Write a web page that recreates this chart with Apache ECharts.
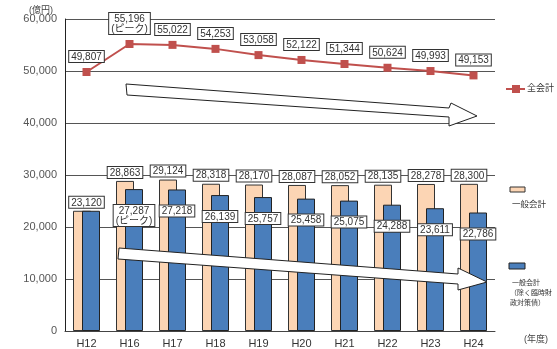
<!DOCTYPE html>
<html>
<head>
<meta charset="utf-8">
<script src="https://cdn.jsdelivr.net/npm/echarts@6/dist/echarts.min.js"></script>
<style>
html,body{margin:0;padding:0;background:#fff;}
#chart{width:557px;height:349px;}
</style>
</head>
<body>
<div id="chart"></div>
<script>
// 年度
const years = ['H12', 'H16', 'H17', 'H18', 'H19', 'H20', 'H21', 'H22', 'H23', 'H24'];
// 全会計（億円）
const totalAll = [49807, 55196, 55022, 54253, 53058, 52122, 51344, 50624, 49993, 49153];
// 一般会計（億円）
const general = [23120, 28863, 29124, 28318, 28170, 28087, 28052, 28135, 28278, 28300];
// 一般会計（除く臨時財政対策債）（億円）
const generalExcl = [23120, 27287, 27218, 26139, 25757, 25458, 25075, 24288, 23611, 22786];
// 目盛
const yTicks = [0, 10000, 20000, 30000, 40000, 50000, 60000];
const peakIndex = 1;

const FONT = "'Liberation Sans', 'Noto Sans CJK JP', sans-serif";
const fmt = v => v.toLocaleString('en-US');

const boxLabel = {
  show: true,
  fontFamily: FONT,
  fontSize: 10,
  color: '#333',
  backgroundColor: '#fff',
  borderColor: '#333',
  borderWidth: 1,
  padding: [1, 2, 0, 2],
  lineHeight: 10
};

// H12 は両系列が同値のため、ラベルは一つだけ中央に表示
const generalData = general.map((v, i) => i === 0
  ? { value: v, label: { offset: [4.5, 0] } }
  : v);
const generalExclData = generalExcl.map((v, i) => i === 0
  ? { value: v, label: { show: false } }
  : v);

const chart = echarts.init(document.getElementById('chart'), null, { renderer: 'canvas' });

const option = {
  animation: false,
  backgroundColor: '#fff',
  textStyle: { fontFamily: FONT },
  grid: { left: 65, right: 62, top: 19, bottom: 18, containLabel: false },
  xAxis: {
    type: 'category',
    data: years,
    axisLine: { lineStyle: { color: '#444', width: 1 } },
    axisTick: { show: false },
    axisLabel: { color: '#333', fontSize: 11, margin: 7, fontFamily: FONT }
  },
  yAxis: {
    type: 'value',
    min: yTicks[0],
    max: yTicks[yTicks.length - 1],
    interval: 10000,
    axisLine: { show: true, lineStyle: { color: '#222', width: 1 } },
    axisTick: { show: false },
    axisLabel: { color: '#555', fontSize: 11, margin: 8, formatter: v => fmt(v), fontFamily: FONT },
    splitLine: { lineStyle: { color: '#555', width: 1 } }
  },
  series: [
    {
      name: '一般会計',
      type: 'bar',
      data: generalData,
      barWidth: 18,
      barGap: '-50%',
      itemStyle: { color: '#FCD5B4', borderColor: '#333', borderWidth: 1 },
      label: Object.assign({}, boxLabel, {
        position: 'top',
        distance: 3,
        formatter: p => fmt(p.value)
      }),
      z: 2
    },
    {
      name: '一般会計（除く臨時財政対策債）',
      type: 'bar',
      data: generalExclData,
      barWidth: 18,
      itemStyle: { color: '#4A7EBB', borderColor: '#222', borderWidth: 1 },
      label: Object.assign({}, boxLabel, {
        position: 'insideTop',
        distance: 16,
        formatter: p => p.dataIndex === peakIndex ? fmt(p.value) + '\n(ピーク)' : fmt(p.value)
      }),
      z: 3
    },
    {
      name: '全会計',
      type: 'line',
      data: totalAll,
      symbol: 'rect',
      symbolSize: 8,
      lineStyle: { color: '#C0504D', width: 2 },
      itemStyle: { color: '#C0504D' },
      label: Object.assign({}, boxLabel, {
        position: 'top',
        distance: 6,
        formatter: p => p.dataIndex === peakIndex ? fmt(p.value) + '\n(ピーク)' : fmt(p.value)
      }),
      z: 5
    }
  ],
  graphic: [
    // 全会計の減少を示す矢印
    {
      type: 'polygon', z: 10,
      shape: { points: [[126, 84], [449, 108], [451, 103], [477, 116], [449, 126], [449, 117], [127, 95]] },
      style: { fill: '#fff', stroke: '#222', lineWidth: 1 }
    },
    // 一般会計の減少を示す矢印
    {
      type: 'polygon', z: 10,
      shape: { points: [[119, 248], [458, 274], [458, 268], [487, 282], [458, 290], [458, 284], [118, 259]] },
      style: { fill: '#fff', stroke: '#222', lineWidth: 1 }
    },
    // 単位
    { type: 'text', left: 29, top: 6, style: { text: '(億円)', fontSize: 9, fill: '#444', fontFamily: FONT } },
    { type: 'text', left: 524, top: 335, style: { text: '(年度)', fontSize: 9, fill: '#444', fontFamily: FONT } },
    // 凡例：全会計
    { type: 'line', shape: { x1: 506, y1: 89, x2: 525, y2: 89 }, style: { stroke: '#C0504D', lineWidth: 2 } },
    { type: 'rect', shape: { x: 512, y: 85, width: 8, height: 8 }, style: { fill: '#C0504D' } },
    { type: 'text', left: 527, top: 84, style: { text: '全会計', fontSize: 9, fill: '#333', fontFamily: FONT } },
    // 凡例：一般会計
    { type: 'rect', shape: { x: 510, y: 187, width: 15, height: 5 }, style: { fill: '#FCD5B4', stroke: '#333', lineWidth: 1 } },
    { type: 'text', left: 512, top: 200, style: { text: '一般会計', fontSize: 8.5, fill: '#333', fontFamily: FONT } },
    // 凡例：一般会計（除く臨時財政対策債）
    { type: 'rect', shape: { x: 509, y: 263, width: 16, height: 6 }, style: { fill: '#4A7EBB', stroke: '#222', lineWidth: 1 } },
    { type: 'text', left: 510, top: 278, style: { text: ' 一般会計\n（除く臨時財\n政対策債）', fontSize: 7, lineHeight: 10, fill: '#333', fontFamily: FONT } }
  ]
};

chart.setOption(option);
</script>
</body>
</html>
